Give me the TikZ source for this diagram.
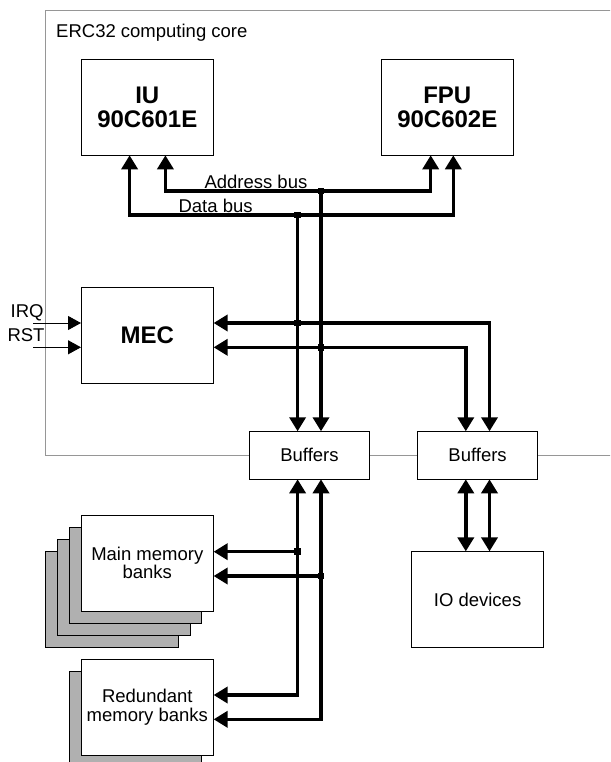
\documentclass[tikz,border=0pt]{standalone}
\usepackage{fontspec}
\setmainfont{Liberation Sans}
\usetikzlibrary{arrows.meta}
\definecolor{shadowgray}{RGB}{176,176,176}
\definecolor{framegray}{RGB}{150,150,150}
\begin{document}
\begin{tikzpicture}[x=1pt,y=-1pt,
  box/.style={draw=black,line width=1pt,fill=white,inner sep=0pt,outer sep=0pt,
    minimum width=132.6pt,minimum height=96pt,align=center,
    font=\fontsize{18.5}{18.5}\selectfont},
  boldbox/.style={box,font=\fontsize{24}{24.3}\selectfont\bfseries},
  bufbox/.style={box,minimum width=120pt,minimum height=48pt},
  shadowbox/.style={draw=black,line width=1pt,fill=shadowgray},
  framebox/.style={draw=framegray,line width=1pt},
  bus/.style={line width=3.5pt,>={Triangle[length=14pt,width=16pt]}},
  sig/.style={line width=1pt,>={Triangle[length=13pt,width=14pt]}},
  lbl/.style={inner sep=0pt,outer sep=0pt,font=\fontsize{18.5}{18.5}\selectfont},
  junction/.style={rectangle,fill=black,inner sep=0pt,minimum size=6.5pt}]
\useasboundingbox (0,0) rectangle (610,762);
\clip (0,0) rectangle (610,762);
% computing core frame
\draw[framebox] (45,11) rectangle (640,455.3);
\node[lbl,anchor=base west] (erc) at (56.2,38) {ERC32 computing core};
% main memory stack shadows
\draw[shadowbox] (45.6,551.3) rectangle (178.2,647.3);
\draw[shadowbox] (57.4,539.2) rectangle (190,635.2);
\draw[shadowbox] (69.2,527.1) rectangle (201.8,623.1);
% redundant memory shadow
\draw[shadowbox] (69.3,671.7) rectangle (201.9,767.4);
% boxes
\node[boldbox] (IU) at (147.3,107.3) {IU\\90C601E};
\node[boldbox] (FPU) at (447.3,107.3) {FPU\\90C602E};
\node[boldbox] (MEC) at (147.3,335.3) {MEC};
\node[bufbox] (B1) at (309.5,455.3) {Buffers};
\node[bufbox] (B2) at (477.6,455.3) {Buffers};
\node[box] (MM) at (147.3,563) {Main memory\\banks};
\node[box] (IO) at (477.6,599.4) {IO devices};
\node[box] (RED) at (147.3,707.2) {Redundant\\memory banks};
% coordinates
\coordinate (ja) at (321,191);
\coordinate (jd) at (297.6,215);
\coordinate (xiu1) at (129.6,0);
\coordinate (xiu2) at (165.4,0);
\coordinate (xfp1) at (430.7,0);
\coordinate (xfp2) at (453.3,0);
\coordinate (jm1) at (297.6,323);
\coordinate (jm2) at (321,347.3);
\coordinate (xb1) at (465.8,0);
\coordinate (xb2) at (489.5,0);
\coordinate (jmm1) at (297.6,551.7);
\coordinate (jmm2) at (321,576);
\coordinate (r1) at (297.6,695);
\coordinate (r2) at (321,719.3);
\coordinate (irq) at (33,323);
\coordinate (rst) at (33,347.3);
% buses
\draw[bus,<->] (IU.south -| xiu2) |- (ja) -| (FPU.south -| xfp1);
\draw[bus,<->] (IU.south -| xiu1) |- (jd) -| (FPU.south -| xfp2);
\draw[bus,->] (ja) -- (B1.north -| ja);
\draw[bus,->] (jd) -- (B1.north -| jd);
\draw[bus,<->] (MEC.east |- jm1) -| (B2.north -| xb2);
\draw[bus,<->] (MEC.east |- jm2) -| (B2.north -| xb1);
\draw[bus,<->] (B2.south -| xb1) -- (IO.north -| xb1);
\draw[bus,<->] (B2.south -| xb2) -- (IO.north -| xb2);
\draw[bus,<->] (B1.south -| jd) |- (RED.east |- r1);
\draw[bus,<->] (B1.south -| ja) |- (RED.east |- r2);
\draw[bus,->] (jmm1) -- (MM.east |- jmm1);
\draw[bus,->] (jmm2) -- (MM.east |- jmm2);
\draw[sig,->] (irq) -- (MEC.west |- irq);
\draw[sig,->] (rst) -- (MEC.west |- rst);
% junction dots
\node[junction] (d1) at (ja) {};
\node[junction] (d2) at (jd) {};
\node[junction] (d3) at (jm1) {};
\node[junction] (d4) at (jm2) {};
\node[junction] (d5) at (jmm1) {};
\node[junction] (d6) at (jmm2) {};
% labels
\node[lbl,anchor=base west] (abus) at (204.5,188.5) {Address bus};
\node[lbl,anchor=base west] (dbus) at (178.6,212) {Data bus};
\node[lbl,anchor=base east] (irqt) at (43.5,317.5) {IRQ};
\node[lbl,anchor=base east] (rstt) at (44.5,341.3) {RST};
\end{tikzpicture}
\end{document}
